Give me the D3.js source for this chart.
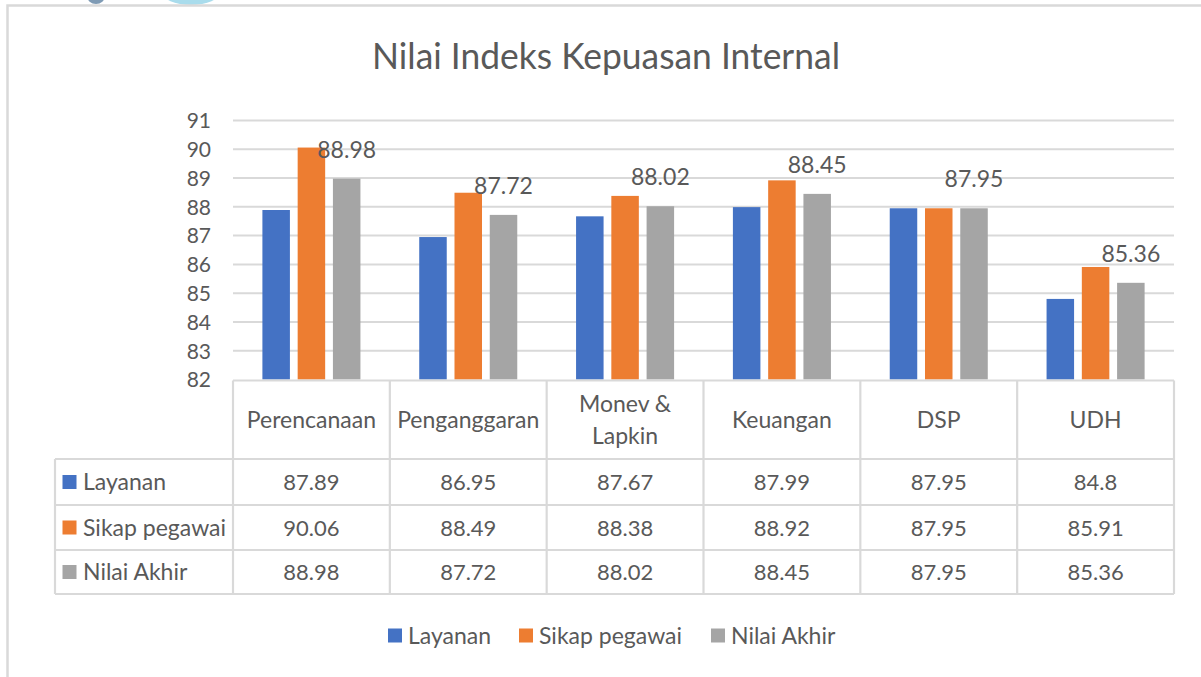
<!DOCTYPE html>
<html><head><meta charset="utf-8">
<script src="https://cdn.jsdelivr.net/npm/d3@7"></script>
<style>
html,body{margin:0;padding:0;background:#fff;}
svg{display:block;font-family:Lato,"Open Sans",sans-serif;}
</style></head>
<body><svg id="c" width="1201" height="677"></svg>
<script>
const title = "Nilai Indeks Kepuasan Internal";
const categories = ["Perencanaan", "Penganggaran", "Monev &\nLapkin", "Keuangan", "DSP", "UDH"];
const seriesNames = ["Layanan", "Sikap pegawai", "Nilai Akhir"];
const layanan = [87.89, 86.95, 87.67, 87.99, 87.95, 84.8];
const sikapPegawai = [90.06, 88.49, 88.38, 88.92, 87.95, 85.91];
const nilaiAkhir = [88.98, 87.72, 88.02, 88.45, 87.95, 85.36];
const yTicks = [82, 83, 84, 85, 86, 87, 88, 89, 90, 91];
const colors = ["#4472C4", "#ED7D31", "#A5A5A5"];

const series = [layanan, sikapPegawai, nilaiAkhir];
const svg = d3.select("#c");
const txt = "#595959", grid = "#d9d9d9";

// page artifacts + frame
svg.append("ellipse").attr("cx", 96).attr("cy", -4).attr("rx", 9).attr("ry", 8).attr("fill", "#7f9bb5");
svg.append("ellipse").attr("cx", 191).attr("cy", -8).attr("rx", 29).attr("ry", 13).attr("fill", "#a9dcec");
svg.append("rect").attr("x", 7.5).attr("y", 5.5).attr("width", 1200).attr("height", 700)
  .attr("fill", "none").attr("stroke", grid).attr("stroke-width", 2.5);

// title
svg.append("text").attr("x", 606).attr("y", 69).attr("text-anchor", "middle")
  .attr("font-size", 36).attr("fill", txt).attr("textLength", 468).attr("lengthAdjust", "spacingAndGlyphs")
  .text(title);

const x0 = d3.scaleBand().domain(categories).range([233, 1174]).paddingInner(0).paddingOuter(0);
const cw = x0.bandwidth();
const x1 = d3.scaleBand().domain(seriesNames).range([29.4, cw - 29.4]).paddingInner(0.22).paddingOuter(0);
const y = d3.scaleLinear().domain([82, 91]).range([379.5, 120.5]);

// gridlines
svg.append("g").selectAll("line").data(yTicks.filter(t => t > 82)).join("line")
  .attr("x1", 233).attr("x2", 1174).attr("y1", d => y(d)).attr("y2", d => y(d))
  .attr("stroke", grid).attr("stroke-width", 2);

// y axis labels
const yAxis = d3.axisLeft(y).tickValues(yTicks).tickSize(0).tickPadding(0);
const ga = svg.append("g").attr("transform", "translate(211,0)").call(yAxis);
ga.select(".domain").remove();
ga.selectAll("text").attr("font-size", 21).attr("fill", txt).attr("font-family", "Lato, 'Open Sans', sans-serif").attr("dy", "0.35em");

// bars
const bars = svg.append("g");
categories.forEach((c, i) => {
  seriesNames.forEach((s, j) => {
    const v = series[j][i];
    bars.append("rect").attr("x", x0(c) + x1(s)).attr("width", x1.bandwidth())
      .attr("y", y(v)).attr("height", y(82) - y(v)).attr("fill", colors[j]);
  });
});

// data labels (Nilai Akhir)
svg.append("g").selectAll("text").data(categories).join("text")
  .attr("x", c => x0(c) + x1("Nilai Akhir") + x1.bandwidth() / 2)
  .attr("y", (c, i) => y(nilaiAkhir[i]) - 21)
  .attr("text-anchor", "middle").attr("font-size", 23).attr("fill", txt)
  .text((c, i) => nilaiAkhir[i]);

// data table
const rowTops = [459, 505, 550];
const rowBot = 594;
const tbl = svg.append("g").attr("stroke", grid).attr("stroke-width", 2.2).attr("fill", "none");
tbl.append("line").attr("x1", 233).attr("x2", 1174).attr("y1", 380.5).attr("y2", 380.5);
categories.forEach(c => {
  tbl.append("line").attr("x1", x0(c)).attr("x2", x0(c)).attr("y1", 380.5).attr("y2", rowBot);
});
tbl.append("line").attr("x1", 1174).attr("x2", 1174).attr("y1", 380.5).attr("y2", rowBot);
tbl.append("line").attr("x1", 55).attr("x2", 55).attr("y1", rowTops[0]).attr("y2", rowBot);
rowTops.concat([rowBot]).forEach(r => {
  tbl.append("line").attr("x1", 55).attr("x2", 1174).attr("y1", r).attr("y2", r);
});

// header labels
const hdr = svg.append("g").attr("fill", txt).attr("font-size", 23).attr("text-anchor", "middle");
categories.forEach(c => {
  const lines = c.split("\n");
  const cx = x0(c) + cw / 2;
  const startY = 420 - (lines.length - 1) * 16 + 7.5;
  lines.forEach((ln, k) => {
    hdr.append("text").attr("x", cx).attr("y", startY + k * 32).text(ln);
  });
});

// rows
seriesNames.forEach((s, j) => {
  const cy = (rowTops[j] + (j < 2 ? rowTops[j + 1] : rowBot)) / 2;
  svg.append("rect").attr("x", 62.5).attr("y", cy - 7).attr("width", 14).attr("height", 14).attr("fill", colors[j]);
  svg.append("text").attr("x", 83).attr("y", cy + 8).attr("font-size", 23).attr("fill", txt).text(s);
  categories.forEach((c, i) => {
    svg.append("text").attr("x", x0(c) + cw / 2).attr("y", cy + 8).attr("text-anchor", "middle")
      .attr("font-size", 22).attr("fill", txt).text(series[j][i]);
  });
});

// legend
const legX = [388, 519, 711];
const lg = svg.append("g");
seriesNames.forEach((s, j) => {
  lg.append("rect").attr("x", legX[j]).attr("y", 628.5).attr("width", 14).attr("height", 14).attr("fill", colors[j]);
  lg.append("text").attr("x", legX[j] + 20).attr("y", 643.5).attr("font-size", 23).attr("fill", txt).text(s);
});
</script></body></html>
